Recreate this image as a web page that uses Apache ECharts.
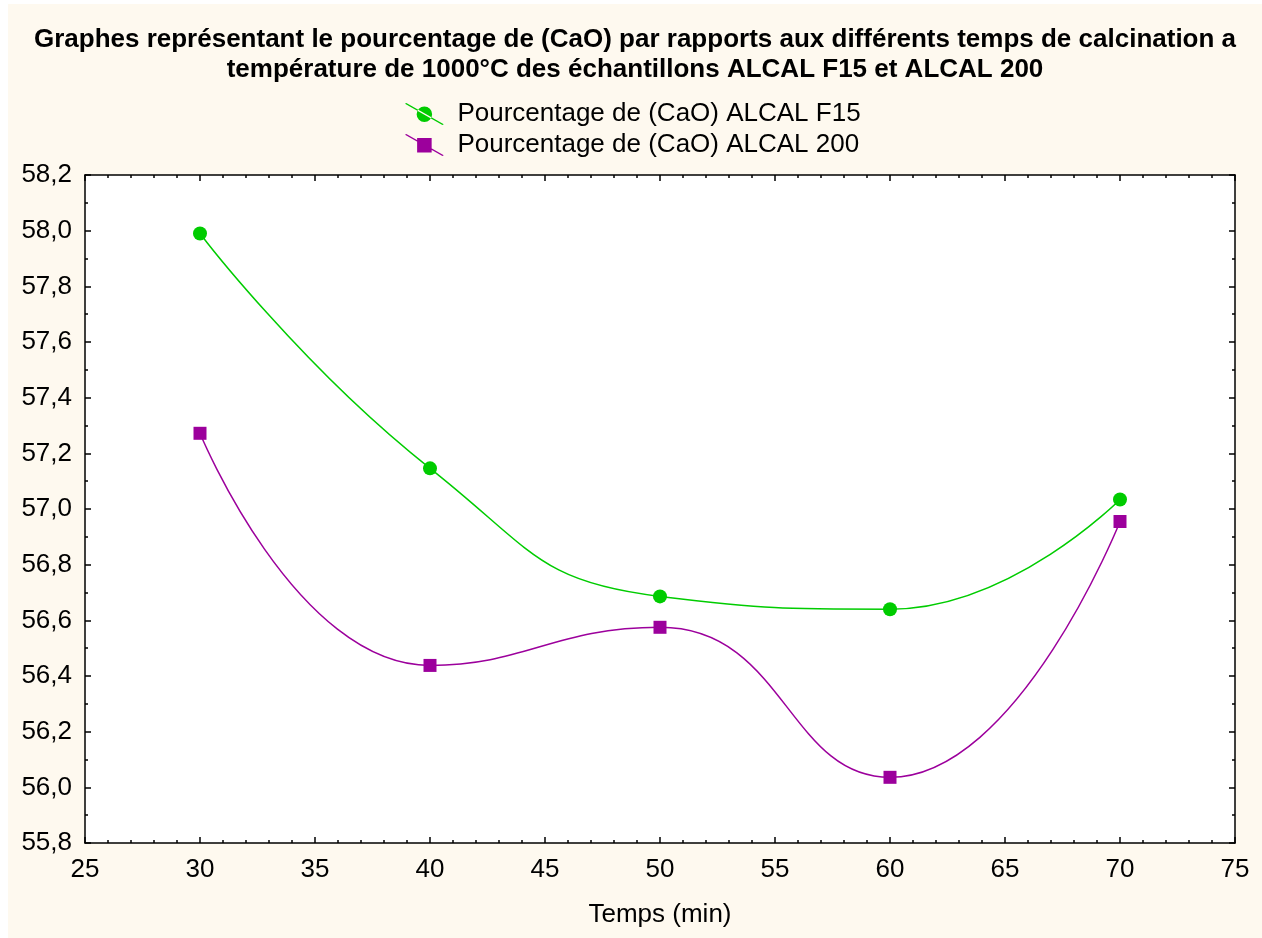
<!DOCTYPE html>
<html>
<head>
<meta charset="utf-8">
<script src="https://cdn.jsdelivr.net/npm/echarts@6/dist/echarts.min.js"></script>
<style>
  html, body { margin: 0; padding: 0; background: #ffffff; }
  #chart { position: absolute; left: 8px; top: 4px; width: 1254px; height: 934px; background: #fef9ef; }
</style>
</head>
<body>
<div id="chart"></div>
<script>
// temps de calcination (min)
const temps = [30, 40, 50, 60, 70]
// pourcentage de CaO
const caoF15 = [57.99, 57.146, 56.686, 56.64, 57.034]
const cao200 = [57.272, 56.438, 56.575, 56.036, 56.955]

const titleLines = [
  'Graphes représentant le pourcentage de (CaO) par rapports aux différents temps de calcination a',
  'température de 1000°C des échantillons ALCAL F15 et ALCAL 200'
]
const nameF15 = 'Pourcentage de (CaO) ALCAL F15'
const name200 = 'Pourcentage de (CaO) ALCAL 200'

const green = '#00cc00'
const purple = '#9c009c'
const font = 'Liberation Sans, Arial, sans-serif'

// legend icons: diagonal line with the marker in the middle
const iconCircle = 'path://M0,0 L1.4,-0.7 L40,21.3 L38.6,22 Z M12,11 A8,8 0 1 0 28,11 A8,8 0 1 0 12,11 Z'
const iconSquare = 'path://M0,0 L1.4,-0.7 L40,21.3 L38.6,22 Z M12.5,3.5 L27.5,3.5 L27.5,18.5 L12.5,18.5 Z'

function pairs(xs, ys) {
  return xs.map((x, i) => [x, ys[i]])
}

const chart = echarts.init(document.getElementById('chart'))

const axisLine = { show: true, lineStyle: { color: '#000', width: 1.5 } }
const tickStyle = { color: '#000', width: 1.5 }

const option = {
  animation: false,
  title: {
    text: titleLines.join('\n'),
    left: 'center',
    top: 16,
    textStyle: { fontFamily: font, fontWeight: 'bold', fontSize: 26, lineHeight: 30, color: '#000' }
  },
  legend: {
    orient: 'vertical',
    left: 392,
    top: 92,
    itemWidth: 40,
    itemHeight: 22,
    itemGap: 5,
    textStyle: { fontFamily: font, fontSize: 26, color: '#000', padding: [0, 0, 0, 8] },
    data: [
      { name: nameF15, icon: iconCircle },
      { name: name200, icon: iconSquare }
    ]
  },
  grid: {
    left: 77,
    right: 27,
    top: 171,
    bottom: 95,
    show: true,
    backgroundColor: '#ffffff',
    borderWidth: 0
  },
  xAxis: [
    {
      type: 'value',
      min: 25,
      max: 75,
      interval: 5,
      name: 'Temps (min)',
      nameLocation: 'middle',
      nameGap: 59,
      nameTextStyle: { fontFamily: font, fontSize: 26, color: '#000' },
      axisLine: axisLine,
      axisTick: { inside: true, length: 6, lineStyle: tickStyle },
      minorTick: { show: true, splitNumber: 5, length: 3, lineStyle: tickStyle },
      axisLabel: { fontFamily: font, fontSize: 26, color: '#000', margin: 14 },
      splitLine: { show: false }
    },
    {
      type: 'value',
      position: 'top',
      min: 25,
      max: 75,
      interval: 5,
      axisLine: axisLine,
      axisTick: { inside: true, length: 6, lineStyle: tickStyle },
      minorTick: { show: true, splitNumber: 5, length: 3, lineStyle: tickStyle },
      axisLabel: { show: false },
      splitLine: { show: false }
    }
  ],
  yAxis: [
    {
      type: 'value',
      min: 55.8,
      max: 58.2,
      interval: 0.2,
      axisLine: axisLine,
      axisTick: { inside: true, length: 6, lineStyle: tickStyle },
      minorTick: { show: true, splitNumber: 2, length: 3, lineStyle: tickStyle },
      axisLabel: {
        fontFamily: font,
        fontSize: 26,
        color: '#000',
        margin: 13,
        formatter: v => v.toFixed(1).replace('.', ',')
      },
      splitLine: { show: false }
    },
    {
      type: 'value',
      position: 'right',
      min: 55.8,
      max: 58.2,
      interval: 0.2,
      axisLine: axisLine,
      axisTick: { inside: true, length: 6, lineStyle: tickStyle },
      minorTick: { show: true, splitNumber: 2, length: 3, lineStyle: tickStyle },
      axisLabel: { show: false },
      splitLine: { show: false }
    }
  ],
  series: [
    {
      name: nameF15,
      type: 'line',
      smooth: 0.5,
      data: pairs(temps, caoF15),
      symbol: 'circle',
      symbolSize: 14,
      itemStyle: { color: green },
      lineStyle: { color: green, width: 1.5 }
    },
    {
      name: name200,
      type: 'line',
      smooth: 0.5,
      data: pairs(temps, cao200),
      symbol: 'rect',
      symbolSize: 13,
      itemStyle: { color: purple },
      lineStyle: { color: purple, width: 1.5 }
    }
  ]
}

chart.setOption(option)
</script>
</body>
</html>
